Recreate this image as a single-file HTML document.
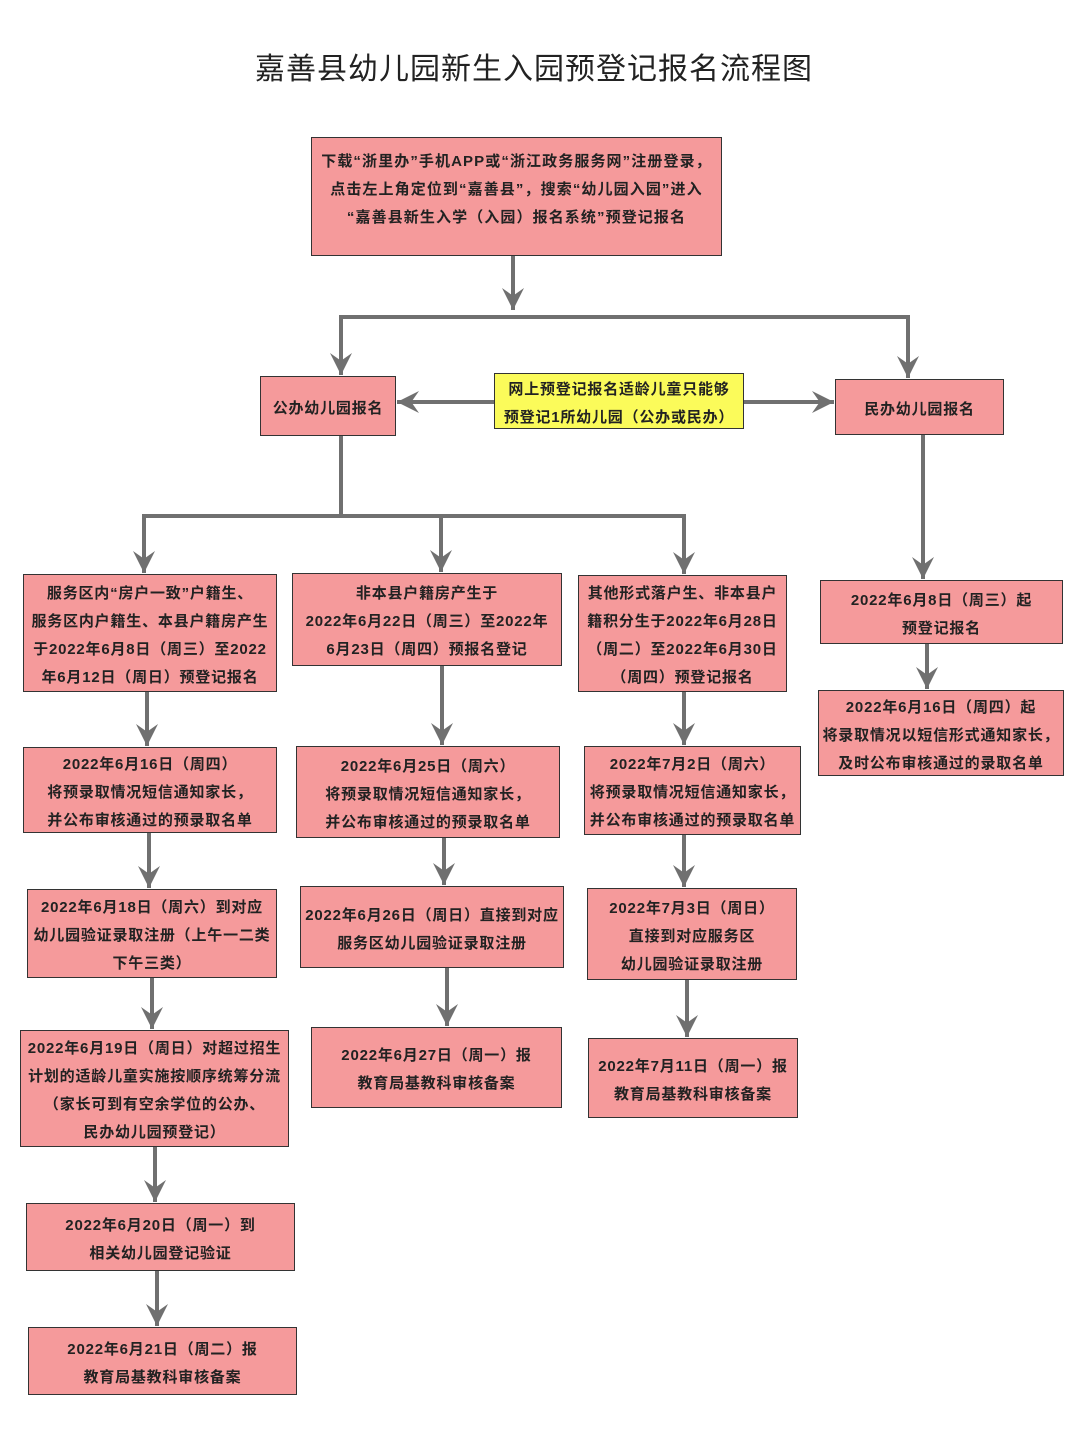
<!DOCTYPE html>
<html><head><meta charset="utf-8"><style>
body{margin:0;width:1080px;height:1456px;background:#fff;position:relative;overflow:hidden;font-family:"Liberation Sans","Noto Sans CJK SC",sans-serif;}
.t{position:absolute;left:0;width:1080px;top:44px;text-align:center;font-size:30px;color:#222;letter-spacing:1px;padding-right:12px;box-sizing:border-box;}
.b{position:absolute;box-sizing:border-box;background:#f59a9b;border:1.5px solid #333;display:flex;align-items:center;justify-content:center;text-align:center;font-size:15px;line-height:28px;color:#222;font-weight:bold;white-space:nowrap;letter-spacing:0.8px;padding-top:5px;}
.y{background:#fbfb5a;}
svg{position:absolute;left:0;top:0;}
</style></head><body>
<div class="t">嘉善县幼儿园新生入园预登记报名流程图</div>
<svg width="1080" height="1456">
<defs><marker id="a" viewBox="0 0 10 10" refX="10" refY="5" markerWidth="22" markerHeight="22" markerUnits="userSpaceOnUse" orient="auto"><path d="M0,0 L10,5 L0,10 L3.5,5 z" fill="#707070"/></marker></defs>
<g stroke="#707070" stroke-width="4" fill="none">
<line x1="513" y1="256" x2="513" y2="310" marker-end="url(#a)"/>
<line x1="341" y1="317" x2="908" y2="317"/>
<line x1="341" y1="315" x2="341" y2="375" marker-end="url(#a)"/>
<line x1="908" y1="315" x2="908" y2="378" marker-end="url(#a)"/>
<line x1="494" y1="402" x2="397" y2="402" marker-end="url(#a)"/>
<line x1="743" y1="402" x2="834" y2="402" marker-end="url(#a)"/>
<line x1="341" y1="436" x2="341" y2="516"/>
<line x1="144" y1="516" x2="684" y2="516"/>
<line x1="144" y1="514" x2="144" y2="573" marker-end="url(#a)"/>
<line x1="441" y1="514" x2="441" y2="572" marker-end="url(#a)"/>
<line x1="684" y1="514" x2="684" y2="574" marker-end="url(#a)"/>
<line x1="923" y1="435" x2="923" y2="579" marker-end="url(#a)"/>
<line x1="927" y1="644" x2="927" y2="689" marker-end="url(#a)"/>
<line x1="147" y1="692" x2="147" y2="746" marker-end="url(#a)"/>
<line x1="149" y1="833" x2="149" y2="888" marker-end="url(#a)"/>
<line x1="152" y1="978" x2="152" y2="1029" marker-end="url(#a)"/>
<line x1="155" y1="1147" x2="155" y2="1202" marker-end="url(#a)"/>
<line x1="157" y1="1271" x2="157" y2="1326" marker-end="url(#a)"/>
<line x1="442" y1="666" x2="442" y2="745" marker-end="url(#a)"/>
<line x1="444" y1="838" x2="444" y2="885" marker-end="url(#a)"/>
<line x1="447" y1="968" x2="447" y2="1026" marker-end="url(#a)"/>
<line x1="684" y1="692" x2="684" y2="745" marker-end="url(#a)"/>
<line x1="684" y1="835" x2="684" y2="887" marker-end="url(#a)"/>
<line x1="687" y1="980" x2="687" y2="1037" marker-end="url(#a)"/>
</g></svg>
<div class="b" style="left:311px;top:137px;width:411px;height:119px;padding-bottom:18px;letter-spacing:1.1px">下载“浙里办”手机APP或“浙江政务服务网”注册登录，<br>点击左上角定位到“嘉善县”，搜索“幼儿园入园”进入<br>“嘉善县新生入学（入园）报名系统”预登记报名</div>
<div class="b" style="left:260px;top:376px;width:136px;height:60px">公办幼儿园报名</div>
<div class="b y" style="left:494px;top:373px;width:250px;height:56px">网上预登记报名适龄儿童只能够<br>预登记1所幼儿园（公办或民办）</div>
<div class="b" style="left:835px;top:379px;width:169px;height:56px">民办幼儿园报名</div>
<div class="b" style="left:23px;top:574px;width:254px;height:118px">服务区内“房户一致”户籍生、<br>服务区内户籍生、本县户籍房产生<br>于2022年6月8日（周三）至2022<br>年6月12日（周日）预登记报名</div>
<div class="b" style="left:23px;top:747px;width:254px;height:86px">2022年6月16日（周四）<br>将预录取情况短信通知家长，<br>并公布审核通过的预录取名单</div>
<div class="b" style="left:27px;top:889px;width:250px;height:89px">2022年6月18日（周六）到对应<br>幼儿园验证录取注册（上午一二类<br>下午三类）</div>
<div class="b" style="left:20px;top:1030px;width:269px;height:117px">2022年6月19日（周日）对超过招生<br>计划的适龄儿童实施按顺序统筹分流<br>（家长可到有空余学位的公办、<br>民办幼儿园预登记）</div>
<div class="b" style="left:26px;top:1203px;width:269px;height:68px">2022年6月20日（周一）到<br>相关幼儿园登记验证</div>
<div class="b" style="left:28px;top:1327px;width:269px;height:68px">2022年6月21日（周二）报<br>教育局基教科审核备案</div>
<div class="b" style="left:292px;top:573px;width:270px;height:93px">非本县户籍房产生于<br>2022年6月22日（周三）至2022年<br>6月23日（周四）预报名登记</div>
<div class="b" style="left:296px;top:746px;width:264px;height:92px">2022年6月25日（周六）<br>将预录取情况短信通知家长，<br>并公布审核通过的预录取名单</div>
<div class="b" style="left:300px;top:886px;width:264px;height:82px">2022年6月26日（周日）直接到对应<br>服务区幼儿园验证录取注册</div>
<div class="b" style="left:311px;top:1027px;width:251px;height:81px">2022年6月27日（周一）报<br>教育局基教科审核备案</div>
<div class="b" style="left:578px;top:575px;width:209px;height:117px">其他形式落户生、非本县户<br>籍积分生于2022年6月28日<br>（周二）至2022年6月30日<br>（周四）预登记报名</div>
<div class="b" style="left:584px;top:746px;width:217px;height:89px">2022年7月2日（周六）<br>将预录取情况短信通知家长，<br>并公布审核通过的预录取名单</div>
<div class="b" style="left:587px;top:888px;width:210px;height:92px">2022年7月3日（周日）<br>直接到对应服务区<br>幼儿园验证录取注册</div>
<div class="b" style="left:588px;top:1038px;width:210px;height:80px">2022年7月11日（周一）报<br>教育局基教科审核备案</div>
<div class="b" style="left:820px;top:580px;width:243px;height:64px">2022年6月8日（周三）起<br>预登记报名</div>
<div class="b" style="left:818px;top:690px;width:246px;height:86px">2022年6月16日（周四）起<br>将录取情况以短信形式通知家长，<br>及时公布审核通过的录取名单</div>
</body></html>
